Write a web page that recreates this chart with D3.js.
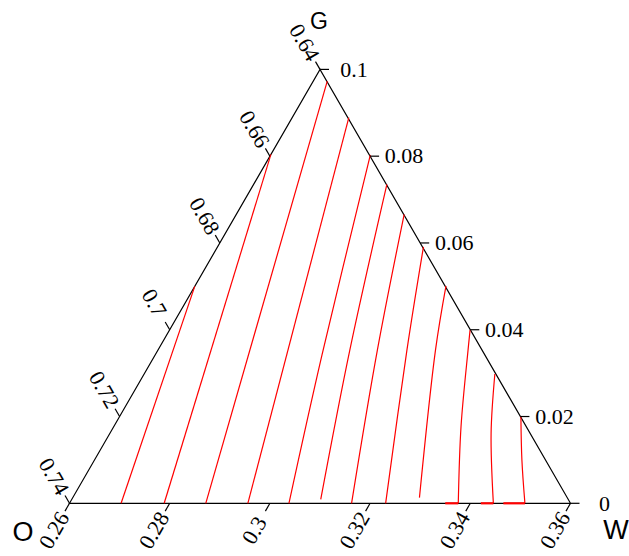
<!DOCTYPE html>
<html>
<head>
<meta charset="utf-8">
<script src="https://cdn.jsdelivr.net/npm/d3@7"></script>
<style>
	body { margin: 0; background: #fff; }
	.tick-label { font-family: "Liberation Serif", "Times New Roman", serif; font-size: 22px; fill: #000; }
	.corner { font-family: "Liberation Sans", Arial, sans-serif; fill: #000; }
</style>
</head>
<body>
<svg id="chart" width="629" height="556"></svg>
<script>

// Axis ranges of the zoomed ternary window
var wRange = [0.26, 0.36];
var oRange = [0.64, 0.74];
var gRange = [0, 0.1];

// Tick values on each side
var wTicks = [0.26, 0.28, 0.30, 0.32, 0.34, 0.36];
var oTicks = [0.64, 0.66, 0.68, 0.70, 0.72, 0.74];
var gTicks = [0, 0.02, 0.04, 0.06, 0.08, 0.1];

// Corner names
var cornerNames = ['O', 'W', 'G'];

// Contour lines, points as [W, G] (O = 1 - W - G)
var contour01 = [[0.2600, 0.0500], [0.2703, 0.0000]];
var contour02 = [[0.2600, 0.0804], [0.2789, 0.0000]];
var contour03 = [[0.2628, 0.0973], [0.2872, 0.0000]];
var contour04 = [[0.2713, 0.0889], [0.2956, 0.0000]];
var contour05 = [[0.2799, 0.0803], [0.2933, 0.0342], [0.3038, 0.0000]];
var contour06 = [[0.2866, 0.0735], [0.2983, 0.0353], [0.3097, 0.0009]];
var contour07 = [[0.2935, 0.0666], [0.3038, 0.0353], [0.3163, 0.0000]];
var contour08 = [[0.3011, 0.0591], [0.3097, 0.0353], [0.3231, 0.0000]];
var contour09 = [[0.3101, 0.0501], [0.3154, 0.0353], [0.3292, 0.0013]];
var contour10 = [[0.3200, 0.0399], [0.3219, 0.0353], [0.3293, 0.0177], [0.3376, 0.0000]];
var contour11 = [[0.3300, 0.0298], [0.3361, 0.0161], [0.3446, 0.0000]];
var contour12 = [[0.3401, 0.0200], [0.3453, 0.0100], [0.3509, 0.0000]];

var contours = [contour01, contour02, contour03, contour04, contour05, contour06,
	contour07, contour08, contour09, contour10, contour11, contour12];

// Pieces of contour running along the bottom side (G = 0), as [W start, W end]
var edgeSegments = [[0.3350, 0.3376], [0.3421, 0.3446], [0.3466, 0.3509]];

var svg = d3.select('#chart');

// Normalised coordinates inside the window
var wNorm = d3.scaleLinear().domain(wRange).range([0, 1]);
var gNorm = d3.scaleLinear().domain(gRange).range([0, 1]);

// Screen scales
var xScale = d3.scaleLinear().domain([0, 1]).range([69.5, 570.5]);
var yScale = d3.scaleLinear().domain([0, 1]).range([503.3, 69.4]);

// Project a [W, G] pair to screen
function project(w, g) {
	var a = wNorm(w), b = gNorm(g);
	return [xScale(a + b / 2), yScale(b)];
};

var pLeft = project(wRange[0], gRange[0]);
var pRight = project(wRange[1], gRange[0]);
var pTop = project(wRange[0], gRange[1]);

// Triangle frame
svg.append('path')
	.attr('d', 'M' + pLeft + 'L' + pRight + 'L' + pTop + 'Z')
	.attr('fill', 'none')
	.attr('stroke', '#000')
	.attr('stroke-width', 1.2);

// Contours
var line = d3.line()
	.x(function(d) { return project(d[0], d[1])[0]; })
	.y(function(d) { return project(d[0], d[1])[1]; })
	.curve(d3.curveCatmullRom.alpha(0.5));

svg.append('g').selectAll('path')
	.data(contours)
	.enter().append('path')
	.attr('d', line)
	.attr('fill', 'none')
	.attr('stroke', '#ff0000')
	.attr('stroke-width', 1.2);

svg.append('g').selectAll('line')
	.data(edgeSegments)
	.enter().append('line')
	.attr('x1', function(d) { return project(d[0], 0)[0]; })
	.attr('x2', function(d) { return project(d[1], 0)[0]; })
	.attr('y1', pLeft[1])
	.attr('y2', pLeft[1])
	.attr('stroke', '#ff0000')
	.attr('stroke-width', 2.2);

// Draw ticks and labels along one side
function drawAxis(ticks, pos, dir, angle, offset) {

	var tickLen = 9;
	var g = svg.append('g');

	ticks.forEach(function(t) {
		var p = pos(t);
		var e = [p[0] + dir[0] * tickLen, p[1] + dir[1] * tickLen];
		var c = [e[0] + dir[0] * offset, e[1] + dir[1] * offset];

		g.append('line')
			.attr('x1', p[0]).attr('y1', p[1])
			.attr('x2', e[0]).attr('y2', e[1])
			.attr('stroke', '#000')
			.attr('stroke-width', 1.2);

		g.append('text')
			.attr('class', 'tick-label')
			.attr('transform', 'translate(' + c[0] + ',' + c[1] + ') rotate(' + angle + ')')
			.attr('text-anchor', 'middle')
			.attr('dy', '0.33em')
			.text(d3.format('~g')(t));
	});
};

var s3 = Math.sqrt(3) / 2;

// W along the bottom, ticks parallel to the left side
drawAxis(wTicks, function(w) { return project(w, 0); }, [-0.5, s3], -60, 22);

// O along the left side, ticks parallel to the right side
drawAxis(oTicks, function(o) { return project(wRange[0], 1 - wRange[0] - o); }, [-0.5, -s3], 60, 22);

// G along the right side, horizontal ticks
drawAxis(gTicks, function(g) { return project(1 - oRange[0] - g, g); }, [1, 0], 0, 25);

// Corner names
var cornerPos = [
	[pLeft[0] - 46.5, pLeft[1] + 38, 27],
	[pRight[0] + 45.5, pRight[1] + 36, 27],
	[pTop[0] - 1, pTop[1] - 40, 23]
];

svg.append('g').selectAll('text')
	.data(cornerNames)
	.enter().append('text')
	.attr('class', 'corner')
	.attr('x', function(d, i) { return cornerPos[i][0]; })
	.attr('y', function(d, i) { return cornerPos[i][1]; })
	.attr('font-size', function(d, i) { return cornerPos[i][2] + 'px'; })
	.attr('text-anchor', 'middle')
	.text(function(d) { return d; });

</script>
</body>
</html>
